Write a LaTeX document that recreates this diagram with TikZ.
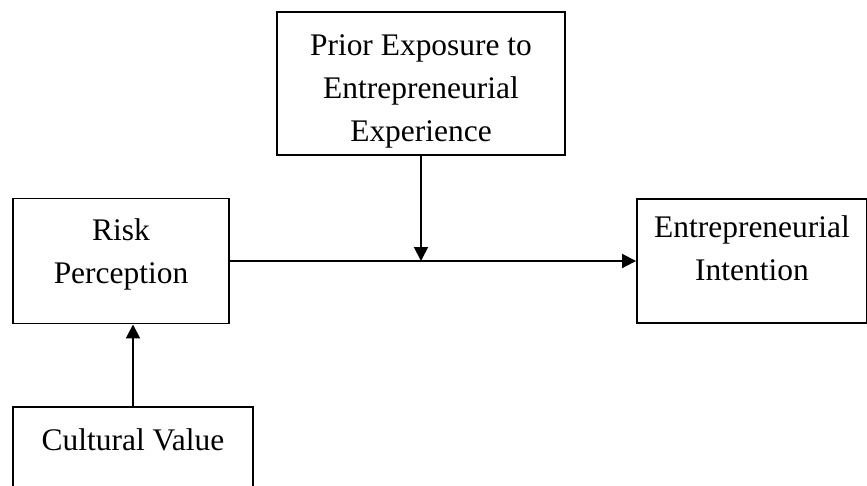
\documentclass[tikz,border=0pt]{standalone}
\usepackage{fontspec}
\setmainfont{Liberation Serif}
\usetikzlibrary{arrows.meta}
\begin{document}
\begin{tikzpicture}[x=0.02cm, y=-0.02cm, line width=1.1pt,
    every node/.style={font=\fontsize{17.9}{24.4}\selectfont},
    boxnode/.style={draw, align=center, inner sep=2pt},
    arr/.style={-{Triangle[length=0.28cm, width=0.28cm]}}]
  \useasboundingbox (0,0) rectangle (867,485);
  \clip (0,0) rectangle (867,485);
  % boxes
  \node[boxnode, minimum width=288*0.02cm, minimum height=143*0.02cm,
        text height=2.52cm, text depth=0.2cm] (prior) at (421,83.5)
        {Prior Exposure to\\Entrepreneurial\\Experience};
  \node[boxnode, minimum width=216*0.02cm, minimum height=125*0.02cm,
        text height=1.10cm, text depth=0.2cm] (risk) at (121,261)
        {Risk\\Perception};
  \node[boxnode, minimum width=230*0.02cm, minimum height=124*0.02cm,
        text height=0.98cm, text depth=0.2cm] (intent) at (752,261)
        {Entrepreneurial\\Intention};
  \node[boxnode, minimum width=240*0.02cm, minimum height=125*0.02cm,
        text height=0.5cm, text depth=1.28cm] (cult) at (133,469.5)
        {Cultural Value};
  % arrows
  \draw[arr] (risk.east) -- (risk.east -| intent.west);
  \draw[arr] (prior.south) -- (prior.south |- risk.east);
  \draw[arr] (cult.north) -- (cult.north |- risk.south);
\end{tikzpicture}
\end{document}
